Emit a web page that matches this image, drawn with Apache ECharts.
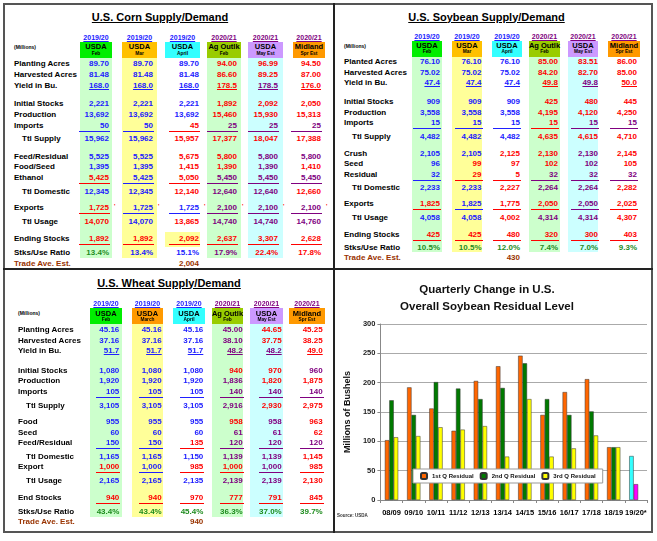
<!DOCTYPE html>
<html>
<head>
<meta charset="utf-8">
<script src="https://cdn.jsdelivr.net/npm/echarts@6/dist/echarts.min.js"></script>
<style>
body { margin: 0; background: #fff; width: 657px; height: 541px; overflow: hidden; position: relative;
       font-family: "Liberation Sans", Arial, sans-serif; }
.t { position: absolute; white-space: nowrap; font-weight: bold; line-height: 1; }
.r { position: absolute; }
#frame { position: absolute; left: 3px; top: 3px; width: 646px; height: 526px; border: 2px solid #555; }
#chart { position: absolute; left: 335px; top: 270px; width: 317px; height: 262px; }
</style>
</head>
<body>
<div id="frame"></div>
<div class="r" style="left:333px;top:3px;width:1.5px;height:530px;background:#222"></div>
<div class="r" style="left:3px;top:268px;width:650px;height:1.5px;background:#222"></div>
<div id="chart"></div>
<script>
// ---- table data ----
var years = ['2019/20', '2019/20', '2019/20', '2020/21', '2020/21', '2020/21'];

var cornSources = [['USDA', 'Feb'], ['USDA', 'Mar'], ['USDA', 'April'], ['Ag Outlk', 'Feb'], ['USDA', 'May Est'], ['Midland', 'Spr Est']];
var cornLabels = ['Planting Acres', 'Harvested Acres', 'Yield in Bu.', 'Initial Stocks', 'Production', 'Imports', 'Ttl Supply',
  'Feed/Residual', 'Food/Seed', 'Ethanol', 'Ttl Domestic', 'Exports', 'Ttl Usage', 'Ending Stocks', 'Stks/Use Ratio'];
var cornValues = [
  ['89.70', '89.70', '89.70', '94.00', '96.99', '94.50'],
  ['81.48', '81.48', '81.48', '86.60', '89.25', '87.00'],
  ['168.0', '168.0', '168.0', '178.5', '178.5', '176.0'],
  ['2,221', '2,221', '2,221', '1,892', '2,092', '2,050'],
  ['13,692', '13,692', '13,692', '15,460', '15,930', '15,313'],
  ['50', '50', '45', '25', '25', '25'],
  ['15,962', '15,962', '15,957', '17,377', '18,047', '17,388'],
  ['5,525', '5,525', '5,675', '5,800', '5,800', '5,800'],
  ['1,395', '1,395', '1,415', '1,390', '1,390', '1,410'],
  ['5,425', '5,425', '5,050', '5,450', '5,450', '5,450'],
  ['12,345', '12,345', '12,140', '12,640', '12,640', '12,660'],
  ['1,725', '1,725', '1,725', '2,100', '2,100', '2,100'],
  ['14,070', '14,070', '13,865', '14,740', '14,740', '14,760'],
  ['1,892', '1,892', '2,092', '2,637', '3,307', '2,628'],
  ['13.4%', '13.4%', '15.1%', '17.9%', '22.4%', '17.8%']
];
var cornTrade = '2,004';

var soySources = [['USDA', 'Feb'], ['USDA', 'Mar'], ['USDA', 'April'], ['Ag Outlk', 'Feb'], ['USDA', 'May Est'], ['Midland', 'Spr Est']];
var soyLabels = ['Planted Acres', 'Harvested Acres', 'Yield in Bu.', 'Initial Stocks', 'Production', 'Imports', 'Ttl Supply',
  'Crush', 'Seed', 'Residual', 'Ttl Domestic', 'Exports', 'Ttl Usage', 'Ending Stocks', 'Stks/Use Ratio'];
var soyValues = [
  ['76.10', '76.10', '76.10', '85.00', '83.51', '86.00'],
  ['75.02', '75.02', '75.02', '84.20', '82.70', '85.00'],
  ['47.4', '47.4', '47.4', '49.8', '49.8', '50.0'],
  ['909', '909', '909', '425', '480', '445'],
  ['3,558', '3,558', '3,558', '4,195', '4,120', '4,250'],
  ['15', '15', '15', '15', '15', '15'],
  ['4,482', '4,482', '4,482', '4,635', '4,615', '4,710'],
  ['2,105', '2,105', '2,125', '2,130', '2,130', '2,145'],
  ['96', '99', '97', '102', '102', '105'],
  ['32', '29', '5', '32', '32', '32'],
  ['2,233', '2,233', '2,227', '2,264', '2,264', '2,282'],
  ['1,825', '1,825', '1,775', '2,050', '2,050', '2,025'],
  ['4,058', '4,058', '4,002', '4,314', '4,314', '4,307'],
  ['425', '425', '480', '320', '300', '403'],
  ['10.5%', '10.5%', '12.0%', '7.4%', '7.0%', '9.3%']
];
var soyTrade = '430';

var wheatSources = [['USDA', 'Feb'], ['USDA', 'March'], ['USDA', 'April'], ['Ag Outlk', 'Feb'], ['USDA', 'May Est'], ['Midland', 'Spr Est']];
var wheatLabels = ['Planting Acres', 'Harvested Acres', 'Yield in Bu.', 'Initial Stocks', 'Production', 'Imports', 'Ttl Supply',
  'Food', 'Seed', 'Feed/Residual', 'Ttl Domestic', 'Export', 'Ttl Usage', 'End Stocks', 'Stks/Use Ratio'];
var wheatValues = [
  ['45.16', '45.16', '45.16', '45.00', '44.65', '45.25'],
  ['37.16', '37.16', '37.16', '38.10', '37.75', '38.25'],
  ['51.7', '51.7', '51.7', '48.2', '48.2', '49.0'],
  ['1,080', '1,080', '1,080', '940', '970', '960'],
  ['1,920', '1,920', '1,920', '1,836', '1,820', '1,875'],
  ['105', '105', '105', '140', '140', '140'],
  ['3,105', '3,105', '3,105', '2,916', '2,930', '2,975'],
  ['955', '955', '955', '958', '958', '963'],
  ['60', '60', '60', '61', '61', '62'],
  ['150', '150', '135', '120', '120', '120'],
  ['1,165', '1,165', '1,150', '1,139', '1,139', '1,145'],
  ['1,000', '1,000', '985', '1,000', '1,000', '985'],
  ['2,165', '2,165', '2,135', '2,139', '2,139', '2,130'],
  ['940', '940', '970', '777', '791', '845'],
  ['43.4%', '43.4%', '45.4%', '36.3%', '37.0%', '39.7%']
];
var wheatTrade = '940';

// ---- chart data ----
var seasons = ['08/09', '09/10', '10/11', '11/12', '12/13', '13/14', '14/15', '15/16', '16/17', '17/18', '18/19', '19/20*'];
var q1Residual = [102, 192, 156, 118, 203, 228, 246, 145, 184, 206, 90, 75];
var q2Residual = [170, 145, 201, 190, 172, 191, 233, 172, 145, 151, 90, 27];
var q3Residual = [107, 109, 124, 120, 126, 74, 172, 74, 88, 110, 90, null];

// ---- styles ----
var ink = { b: '#2020ff', r: '#ff0000', p: '#800080', g: '#1e8c1e', t: '#993300' };
var shadeFill = { g: '#ccffcc', y: '#ffff99', c: '#ccffff' };
var cornInk = ['bbbrrr', 'bbbrrr', 'bbbrpr', 'bbbrrr', 'bbbrrr', 'bbrppp', 'bbrrrr', 'bbrrpp', 'bbrrpr', 'rbrppp',
  'bbrppr', 'rbbppp', 'rbrppp', 'rrrrrr', 'gbbprr'];
var soyInk = ['bbbrrr', 'bbbrrr', 'bbbrpr', 'bbbrrr', 'bbbrrr', 'bbbrpp', 'bbbrrr', 'bbrrpr', 'brrrpr', 'brrppp',
  'bbrppr', 'rbrrpr', 'bbrppr', 'rrrrrr', 'gggggg'];
var wheatInk = ['bbbprr', 'bbbprr', 'bbbppr', 'bbbrrp', 'bbbprr', 'bbbppp', 'bbbprr', 'bbbrpr', 'bbbppr', 'bbrppp',
  'bbbppr', 'rbrrpr', 'bbbppr', 'rrrrrr', 'gggggg'];

var cornLayout = {
  titleX: 160, titleY: 17, labelX: 14, yearY: 37, boxTop: 42, boxBot: 58, millionsY: 47,
  cols: [[80, 112], [122, 157], [165, 200], [207, 241], [248, 283], [293, 325]],
  right: [109, 153, 199, 237, 278, 321],
  boxFill: ['#00ee00', '#ffc000', '#33ffff', '#99cc00', '#cc99ff', '#ff9900'],
  shade: ['g', 'y', null, 'g', 'c', null], shadeBot: 258,
  rowY: [64, 74.7, 85.5, 104, 115, 125.5, 139, 156.7, 167.3, 178, 191.7, 208, 222, 239, 253], tradeY: 264,
  lineW: 30, hilite: [165, 232, 200, 247], marks: 11
};
var soyLayout = {
  titleX: 486.5, titleY: 17, labelX: 344, yearY: 36.7, boxTop: 40.5, boxBot: 57.3, millionsY: 46,
  cols: [[412, 442], [452, 482], [492, 522], [529, 560], [568, 598], [608, 640]],
  right: [440, 481.5, 520, 558, 598, 637],
  boxFill: ['#00ee00', '#ffc000', '#33ffff', '#99cc00', '#cc99ff', '#ff9900'],
  shade: ['g', 'y', null, 'g', 'c', null], shadeBot: 252,
  rowY: [62.3, 73, 83, 102, 113, 123.3, 136.7, 154, 164.3, 175, 188.3, 204.3, 217.7, 235, 248], tradeY: 258.3,
  lineW: 27
};
var wheatLayout = {
  titleX: 169, titleY: 283, labelX: 18, yearY: 303.3, boxTop: 308.3, boxBot: 324, millionsY: 313.7,
  cols: [[90, 122], [132, 163], [173, 205], [212, 243], [250, 283], [289, 325]],
  right: [119.3, 161.7, 203.3, 242.7, 281.7, 322.7],
  boxFill: ['#00ee00', '#ff9900', '#33ffff', '#99cc00', '#cc99ff', '#ff9900'],
  shade: ['g', 'y', null, 'g', 'c', null], shadeBot: 516.7,
  rowY: [330.3, 340.7, 351, 370.7, 381, 391.7, 405.7, 422.3, 433, 443.3, 457, 467.3, 481, 498.3, 512], tradeY: 522,
  lineW: 23
};
var indentRows = [6, 10, 12];
var underlineRows = [2];
var ruleRows = [5, 9, 11, 13];

function put(s, x, y, size, color, align, deco) {
  var d = document.createElement('div');
  d.className = 't';
  d.textContent = s;
  d.style.fontSize = size + 'px';
  d.style.color = color;
  d.style.top = (y - size / 2) + 'px';
  if (align === 'right') d.style.right = (657 - x) + 'px';
  else if (align === 'center') { d.style.left = (x - 80) + 'px'; d.style.width = '160px'; d.style.textAlign = 'center'; }
  else d.style.left = x + 'px';
  if (deco) { d.style.textDecoration = 'underline'; d.style.textUnderlineOffset = '1px'; }
  document.body.appendChild(d);
  return d;
}

function rect(x0, y0, x1, y1, fill) {
  var d = document.createElement('div');
  d.className = 'r';
  d.style.left = x0 + 'px';
  d.style.top = y0 + 'px';
  d.style.width = (x1 - x0) + 'px';
  d.style.height = (y1 - y0) + 'px';
  d.style.background = fill;
  document.body.appendChild(d);
}

function drawTable(title, sources, labels, values, inks, trade, L) {
  L.cols.forEach(function (c, j) {
    if (L.shade[j]) rect(c[0], L.boxBot, c[1], L.shadeBot, shadeFill[L.shade[j]]);
    rect(c[0], L.boxTop, c[1], L.boxBot, L.boxFill[j]);
  });
  if (L.hilite) rect(L.hilite[0], L.hilite[1], L.hilite[2], L.hilite[3], '#ffff99');
  put(title, L.titleX, L.titleY, 11, '#000', 'center', true);
  put('(Millions)', L.labelX, L.millionsY, 5, '#000', 'left');
  L.cols.forEach(function (c, j) {
    var cx = (c[0] + c[1]) / 2;
    put(years[j], cx, L.yearY, 7, j < 3 ? ink.b : ink.p, 'center', true);
    put(sources[j][0], cx, L.boxTop + 5, 7.5, '#000', 'center');
    put(sources[j][1], cx, L.boxTop + 12.3, 4.8, '#000', 'center');
  });
  labels.forEach(function (lab, i) {
    var y = L.rowY[i];
    put(lab, L.labelX + (indentRows.indexOf(i) >= 0 ? 8 : 0), y, 8, '#000', 'left');
    values[i].forEach(function (v, j) {
      var col = ink[inks[i].charAt(j)];
      put(v, L.right[j], y, 8, col, 'right', underlineRows.indexOf(i) >= 0);
      if (ruleRows.indexOf(i) >= 0) rect(L.right[j] - L.lineW, y + 5, L.right[j] + 1, y + 6, col);
      if (L.marks === i) put("'", L.right[j] + 5, y - 2, 6, ink.r, 'left');
    });
  });
  put('Trade Ave. Est.', L.labelX, L.tradeY, 8, ink.t, 'left');
  put(trade, L.right[2], L.tradeY, 8, ink.t, 'right');
}

drawTable('U.S. Corn Supply/Demand ', cornSources, cornLabels, cornValues, cornInk, cornTrade, cornLayout);
drawTable('U.S. Soybean Supply/Demand', soySources, soyLabels, soyValues, soyInk, soyTrade, soyLayout);
drawTable('U.S. Wheat Supply/Demand', wheatSources, wheatLabels, wheatValues, wheatInk, wheatTrade, wheatLayout);

// ---- chart ----
var font = '"Liberation Sans", Arial, sans-serif';
var chart = echarts.init(document.getElementById('chart'));
chart.setOption({
  animation: false,
  textStyle: { fontFamily: font },
  graphic: [
    { type: 'text', x: 152, y: 20, style: { text: 'Quarterly Change in U.S.', textAlign: 'center', textVerticalAlign: 'middle',
      fontSize: 11.5, fontWeight: 'bold', fontFamily: font, fill: '#111' } },
    { type: 'text', x: 152, y: 37, style: { text: 'Overall Soybean Residual Level', textAlign: 'center', textVerticalAlign: 'middle',
      fontSize: 11.5, fontWeight: 'bold', fontFamily: font, fill: '#111' } },
    { type: 'text', x: 2, y: 246, style: { text: 'Source: USDA', textVerticalAlign: 'middle',
      fontSize: 4.5, fontWeight: 'bold', fontFamily: font, fill: '#333' } }
  ],
  legend: {
    left: 78, top: 199, itemWidth: 6, itemHeight: 6, itemGap: 6, padding: [3, 7],
    backgroundColor: '#fff', borderColor: '#999', borderWidth: 1, borderRadius: 0,
    textStyle: { fontSize: 6, fontWeight: 'bold', color: '#111' }
  },
  grid: { left: 36, right: 5, top: 54, bottom: 32 },
  xAxis: {
    type: 'category', data: seasons,
    axisLine: { lineStyle: { color: '#888' } },
    axisTick: { show: true, length: 3, lineStyle: { color: '#888' } },
    axisLabel: { interval: 0, fontSize: 7.5, fontWeight: 'bold', color: '#000', margin: 9 },
    splitLine: { show: false }
  },
  yAxis: {
    type: 'value', min: 0, max: 300, interval: 50,
    name: 'Millions of Bushels', nameLocation: 'middle', nameGap: 22,
    nameTextStyle: { fontSize: 9, fontWeight: 'bold', color: '#111' },
    axisLine: { show: true, lineStyle: { color: '#888' } },
    axisTick: { show: true, length: 3, lineStyle: { color: '#888' } },
    axisLabel: { fontSize: 7.5, fontWeight: 'bold', color: '#222', margin: 5 },
    splitLine: { lineStyle: { color: '#aaa', width: 1 } }
  },
  series: [
    { name: '1st Q Residual', type: 'bar', barGap: '0%', barCategoryGap: '40%',
      itemStyle: { color: '#ff6600', borderColor: '#333', borderWidth: 0.5 },
      data: q1Residual.map(function (v, i) { return i === seasons.length - 1 ? { value: v, itemStyle: { color: '#33ffff' } } : v; }) },
    { name: '2nd Q Residual', type: 'bar', barGap: '0%', barCategoryGap: '40%',
      itemStyle: { color: '#007a00', borderColor: '#333', borderWidth: 0.5 },
      data: q2Residual.map(function (v, i) { return i === seasons.length - 1 ? { value: v, itemStyle: { color: '#ff00ff' } } : v; }) },
    { name: '3rd Q Residual', type: 'bar', barGap: '0%', barCategoryGap: '40%',
      itemStyle: { color: '#ffff00', borderColor: '#333', borderWidth: 0.5 },
      data: q3Residual }
  ]
});
</script>
</body>
</html>
